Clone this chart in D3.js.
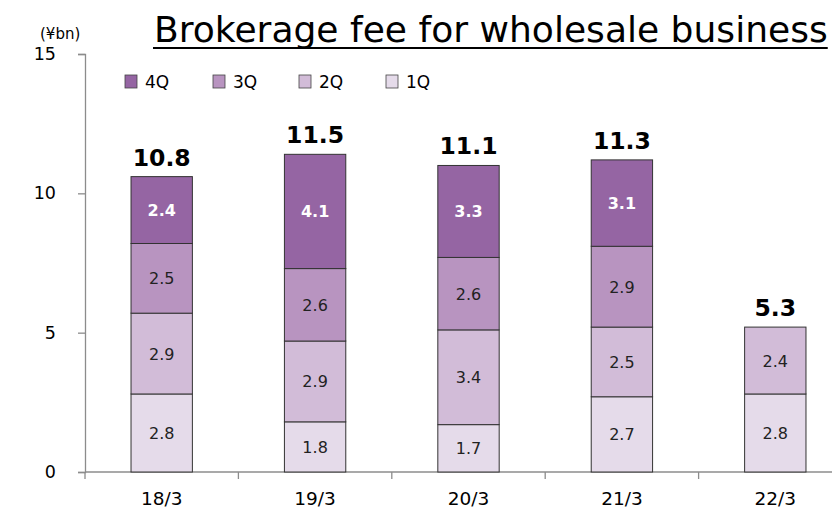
<!DOCTYPE html>
<html>
<head>
<meta charset="utf-8">
<script src="https://cdn.jsdelivr.net/npm/d3@7"></script>
<style>
  body { margin: 0; background: #fff; }
  svg text { font-family: "DejaVu Sans", Verdana, sans-serif; }
</style>
</head>
<body>
<div id="chart"></div>
<script>
// Données
const years = ["18/3", "19/3", "20/3", "21/3", "22/3"];
const quarters = ["1Q", "2Q", "3Q", "4Q"];
const q1 = [2.8, 1.8, 1.7, 2.7, 2.8];
const q2 = [2.9, 2.9, 3.4, 2.5, 2.4];
const q3 = [2.5, 2.6, 2.6, 2.9, null];
const q4 = [2.4, 4.1, 3.3, 3.1, null];
const totals = ["10.8", "11.5", "11.1", "11.3", "5.3"];
const yTicks = [0, 5, 10, 15];
const colors = { "1Q": "#e5dbea", "2Q": "#d2bcd8", "3Q": "#b894c0", "4Q": "#9565a3" };

const W = 832, H = 508;
const margin = { top: 54, right: -20, bottom: 36, left: 85 };

const svg = d3.select("#chart").append("svg")
    .attr("width", W).attr("height", H);

const x = d3.scaleBand()
    .domain(years)
    .range([margin.left, W - margin.right])
    .paddingInner(0.6).paddingOuter(0.3);

const y = d3.scaleLinear()
    .domain([0, 15])
    .range([H - margin.bottom, margin.top]);

// Table pour la pile
const table = years.map((yr, i) => ({
    year: yr, "1Q": q1[i] || 0, "2Q": q2[i] || 0, "3Q": q3[i] || 0, "4Q": q4[i] || 0
}));
const series = d3.stack().keys(quarters)(table);

// Axe Y
const yAxis = svg.append("g")
    .attr("transform", `translate(${margin.left},0)`)
    .call(d3.axisLeft(y).tickValues(yTicks).tickSize(7).tickPadding(22));
yAxis.select(".domain").attr("stroke", "#8c8c8c").attr("stroke-width", 1.3);
yAxis.selectAll(".tick line").attr("stroke", "#8c8c8c").attr("stroke-width", 1.3);
yAxis.selectAll(".tick text").style("font-size", "17.5px").attr("fill", "#000");

// Axe X
const bounds = years.map(d => x(d) - x.step() * x.paddingInner() / 2).concat([W - margin.right]);
const xg = svg.append("g");
xg.append("line")
    .attr("x1", margin.left).attr("x2", W)
    .attr("y1", y(0)).attr("y2", y(0))
    .attr("stroke", "#8c8c8c").attr("stroke-width", 1.3);
xg.selectAll("line.tk")
    .data(bounds)
    .join("line")
    .attr("class", "tk")
    .attr("x1", d => d).attr("x2", d => d)
    .attr("y1", y(0)).attr("y2", y(0) + 7)
    .attr("stroke", "#8c8c8c").attr("stroke-width", 1.3);
xg.selectAll("text")
    .data(years)
    .join("text")
    .attr("x", d => x(d) + x.bandwidth() / 2)
    .attr("y", y(0) + 33)
    .attr("text-anchor", "middle")
    .style("font-size", "18.5px")
    .text(d => d);

// Barres
const layers = svg.append("g").selectAll("g")
    .data(series)
    .join("g")
    .attr("fill", d => colors[d.key]);

layers.selectAll("rect")
    .data(d => d.filter(s => s[1] > s[0]))
    .join("rect")
    .attr("x", d => x(d.data.year))
    .attr("width", x.bandwidth())
    .attr("y", d => y(d[1]))
    .attr("height", d => y(d[0]) - y(d[1]))
    .attr("stroke", "#333")
    .attr("stroke-width", 1);

layers.each(function(s) {
    d3.select(this).selectAll("text")
        .data(s.filter(v => v[1] > v[0]))
        .join("text")
        .attr("x", d => x(d.data.year) + x.bandwidth() / 2)
        .attr("y", d => (y(d[0]) + y(d[1])) / 2 + 6)
        .attr("text-anchor", "middle")
        .style("font-size", "16px")
        .style("font-weight", s.key === "4Q" ? "bold" : "normal")
        .attr("fill", s.key === "4Q" ? "#fff" : "#222")
        .text(d => (d[1] - d[0]).toFixed(1));
});

// Totaux
svg.append("g").selectAll("text")
    .data(table)
    .join("text")
    .attr("x", d => x(d.year) + x.bandwidth() / 2)
    .attr("y", d => y(d["1Q"] + d["2Q"] + d["3Q"] + d["4Q"]) - 11)
    .attr("text-anchor", "middle")
    .style("font-size", "23.5px")
    .style("font-weight", "bold")
    .text((d, i) => totals[i]);

// Légende
const legendOrder = ["4Q", "3Q", "2Q", "1Q"];
const legendX = [125, 213, 299, 386];
const legend = svg.append("g").selectAll("g")
    .data(legendOrder)
    .join("g")
    .attr("transform", (d, i) => `translate(${legendX[i]},75)`);
legend.append("rect")
    .attr("width", 12).attr("height", 13)
    .attr("fill", d => colors[d])
    .attr("stroke", "#444").attr("stroke-width", 0.8);
legend.append("text")
    .attr("x", 20).attr("y", 13)
    .style("font-size", "17px")
    .text(d => d);

// Unité
svg.append("text")
    .attr("x", 40).attr("y", 39)
    .style("font-size", "15px")
    .text("(¥bn)");

// Titre (ajusté à la largeur de la référence)
const title = svg.append("text")
    .attr("x", 154).attr("y", 42)
    .style("font-size", "30px")
    .text("Brokerage fee for wholesale business");
const w0 = title.node().getComputedTextLength();
title.style("font-size", (30 * 674 / w0) + "px");
const tb = title.node().getBBox();
svg.append("line")
    .attr("x1", tb.x - 1).attr("x2", tb.x + tb.width)
    .attr("y1", 48).attr("y2", 48)
    .attr("stroke", "#000").attr("stroke-width", 2);
</script>
</body>
</html>
